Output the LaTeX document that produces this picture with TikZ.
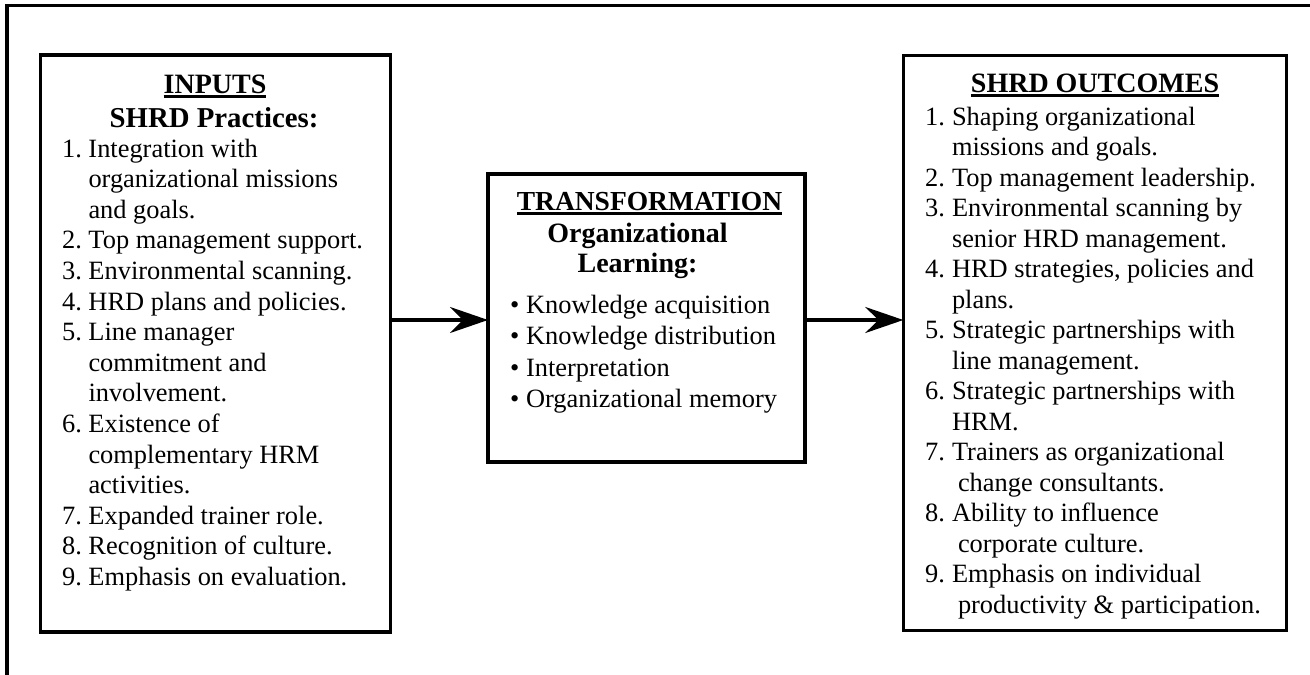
\documentclass[tikz,border=0pt]{standalone}
\usepackage{fontspec}
\setmainfont{Liberation Serif}
\usetikzlibrary{arrows.meta}
\newcommand\hdul[1]{\setbox0\hbox{#1}\rlap{\rule[-5pt]{\wd0}{2.6pt}}\box0}
\begin{document}
\begin{tikzpicture}[x=1pt,y=-1pt,
  box/.style={draw, line width=3.2pt, inner sep=0pt, outer sep=0pt},
  head/.style={font=\fontsize{28}{30}\selectfont\bfseries, inner sep=0pt, anchor=base},
  lst/.style={font=\fontsize{26.4}{30.6}\selectfont, inner sep=0pt, anchor=base west},
  frameline/.style={line width=3.5pt},
  conn/.style={line width=3.2pt, -{Stealth[length=38pt,width=26pt,inset=13pt]}}]
\useasboundingbox (0,0) rectangle (1310,675);
% outer frame (top and left edges)
\draw[frameline] (1312,5.5) -- (7,5.5) -- (7,677);
% boxes
\node[box, minimum width=349.8pt, minimum height=577pt] (inbox) at (215.4,343.5) {};
\node[box, minimum width=317pt, minimum height=288pt] (trbox) at (646.5,318) {};
\node[box, minimum width=383.4pt, minimum height=575.5pt] (outbox) at (1095,343) {};
% headings
\node[head] (inh1) at (215,93) {\hdul{INPUTS}};
\node[head, font=\fontsize{28.8}{30}\selectfont\bfseries] (inh2) at (214,127) {SHRD Practices:};
\node[head, font=\fontsize{27.5}{30}\selectfont\bfseries] (trh1) at (649.5,210) {\hdul{TRANSFORMATION}};
\node[head] (trh2) at (637.5,242) {Organizational};
\node[head] (trh3) at (637.5,272) {Learning:};
\node[head] (outh1) at (1095,92) {\hdul{SHRD OUTCOMES}};
% lists
\node[lst] (inlist) at (62,157) {\begin{tabular}[t]{@{}l@{\hspace{6.5pt}}l@{}}
1. & Integration with\\
   & organizational missions\\
   & and goals.\\
2. & Top management support.\\
3. & Environmental scanning.\\
4. & HRD plans and policies.\\
5. & Line manager\\
   & commitment and\\
   & involvement.\\
6. & Existence of\\
   & complementary HRM\\
   & activities.\\
7. & Expanded trainer role.\\
8. & Recognition of culture.\\
9. & Emphasis on evaluation.
\end{tabular}};
\node[lst, font=\fontsize{26.4}{31.5}\selectfont] (trlist) at (510,313) {\begin{tabular}[t]{@{}l@{}}
• Knowledge acquisition\\
• Knowledge distribution\\
• Interpretation\\
• Organizational memory
\end{tabular}};
\node[lst, font=\fontsize{26.4}{30.5}\selectfont] (outlist) at (925,125) {\begin{tabular}[t]{@{}l@{\hspace{7pt}}l@{}}
1. & Shaping organizational\\
   & missions and goals.\\
2. & Top management leadership.\\
3. & Environmental scanning by\\
   & senior HRD management.\\
4. & HRD strategies, policies and\\
   & plans.\\
5. & Strategic partnerships with\\
   & line management.\\
6. & Strategic partnerships with\\
   & HRM.\\
7. & Trainers as organizational\\
   & \hspace{6pt}change consultants.\\
8. & Ability to influence\\
   & \hspace{6pt}corporate culture.\\
9. & Emphasis on individual\\
   & \hspace{6pt}productivity \& participation.
\end{tabular}};
% connectors
\coordinate (ay) at (0,320);
\draw[conn] (inbox.east |- ay) -- (trbox.west |- ay);
\draw[conn] (trbox.east |- ay) -- (outbox.west |- ay);
\end{tikzpicture}
\end{document}
